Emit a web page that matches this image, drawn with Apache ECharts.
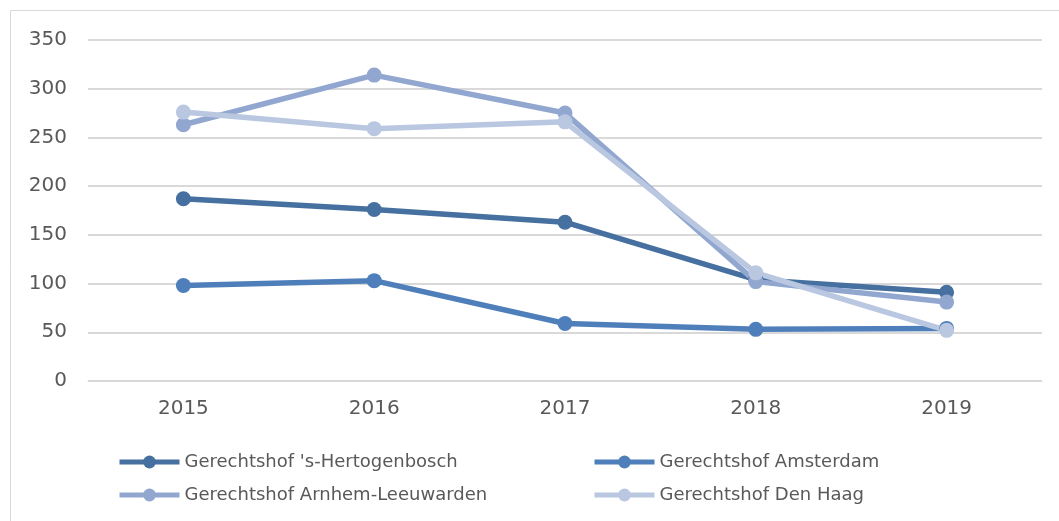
<!DOCTYPE html>
<html><head><meta charset="utf-8">
<script src="https://cdn.jsdelivr.net/npm/echarts@6/dist/echarts.min.js"></script>
<style>html,body{margin:0;padding:0;background:#fff}#c{width:1059px;height:521px}</style>
</head><body><div id="c"></div>
<script>
const categories = ['2015','2016','2017','2018','2019'];
const seriesNames = ["Gerechtshof 's-Hertogenbosch","Gerechtshof Amsterdam","Gerechtshof Arnhem-Leeuwarden","Gerechtshof Den Haag"];
const hertogenbosch = [187, 176, 163, 104, 91];
const amsterdam = [98, 103, 59, 53, 54];
const arnhem = [263, 314, 275, 102, 81];
const denHaag = [276, 259, 266, 111, 52];
const yTicks = {min: 0, max: 350, interval: 50};
const colors = ['#46709f', '#4f7fbb', '#91a7cf', '#bac7e1'];
const allData = [hertogenbosch, amsterdam, arnhem, denHaag];

const chart = echarts.init(document.getElementById('c'), null, {renderer: 'canvas'});
const font = 'DejaVu Sans, Verdana, sans-serif';
const legendCommon = {orient: 'vertical', top: 453, padding: 0, itemWidth: 60, itemHeight: 16, itemGap: 15,
  lineStyle: {width: 5}, textStyle: {color: '#595959', fontSize: 18, lineHeight: 18, fontFamily: font}};
chart.setOption({
  animation: false,
  graphic: [{type: 'rect', shape: {x: 10.5, y: 10.5, width: 1100, height: 600}, style: {fill: 'none', stroke: '#d9d9d9', lineWidth: 1}, silent: true}],
  grid: {left: 88, right: 17, top: 40, bottom: 140, containLabel: false},
  xAxis: {type: 'category', data: categories, boundaryGap: true,
    axisLine: {show: true, lineStyle: {color: '#d9d9d9', width: 1}}, axisTick: {show: false},
    axisLabel: {color: '#595959', fontSize: 20, fontFamily: font, margin: 18}},
  yAxis: {type: 'value', min: yTicks.min, max: yTicks.max, interval: yTicks.interval,
    axisLine: {show: false}, axisTick: {show: false},
    splitLine: {lineStyle: {color: '#d9d9d9', width: 2}},
    axisLabel: {color: '#595959', fontSize: 20, fontFamily: font, margin: 21}},
  legend: [
    Object.assign({data: [seriesNames[0], seriesNames[2]], left: 117}, legendCommon),
    Object.assign({data: [seriesNames[1], seriesNames[3]], left: 592}, legendCommon)
  ],
  series: seriesNames.map((n, i) => ({
    name: n, type: 'line', data: allData[i], color: colors[i],
    symbol: 'circle', symbolSize: 15,
    lineStyle: {width: 5.5, color: colors[i]}, itemStyle: {color: colors[i]}
  }))
});
</script></body></html>
